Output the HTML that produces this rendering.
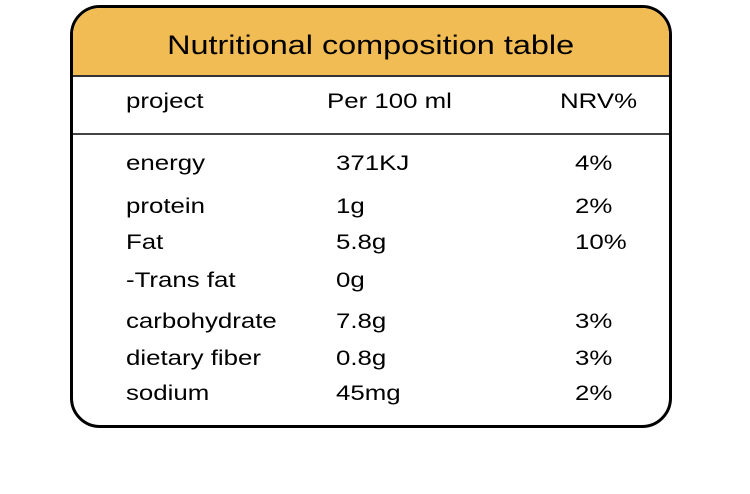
<!DOCTYPE html>
<html><head><style>
body{margin:0;width:750px;height:494px;background:#fff;font-family:"Liberation Sans",Arial,sans-serif;position:relative;overflow:hidden}
.box{position:absolute;left:70px;top:5px;width:596px;height:417px;border:3.5px solid #000;border-radius:30px;overflow:hidden;background:#fff}
.hd{position:absolute;left:0;top:0;width:100%;height:67px;background:#F2BC55;border-bottom:2px solid #333}
.ln{position:absolute;left:0;top:125px;width:100%;height:2px;background:#444}
.t{position:absolute;font-size:21px;transform:scaleX(1.23);transform-origin:0 0;color:#000;line-height:1;white-space:nowrap}
.title{position:absolute;left:0;width:100%;top:24px;text-align:center;font-size:27px;line-height:1}
.title span{display:inline-block;transform:scaleX(1.2)}
</style></head><body>
<div class="box"><div class="hd"><div class="title"><span>Nutritional composition table</span></div></div><div class="ln"></div></div>
<div class="t" style="left:126px;top:91px">project</div>
<div class="t" style="left:327px;top:91px">Per 100 ml</div>
<div class="t" style="left:560px;top:91px">NRV%</div>
<div class="t" style="left:126px;top:153px">energy</div><div class="t" style="left:336px;top:153px">371KJ</div><div class="t" style="left:575px;top:153px">4%</div>
<div class="t" style="left:126px;top:196px">protein</div><div class="t" style="left:336px;top:196px">1g</div><div class="t" style="left:575px;top:196px">2%</div>
<div class="t" style="left:126px;top:232px">Fat</div><div class="t" style="left:336px;top:232px">5.8g</div><div class="t" style="left:575px;top:232px">10%</div>
<div class="t" style="left:126px;top:270px">-Trans fat</div><div class="t" style="left:336px;top:270px">0g</div>
<div class="t" style="left:126px;top:311px">carbohydrate</div><div class="t" style="left:336px;top:311px">7.8g</div><div class="t" style="left:575px;top:311px">3%</div>
<div class="t" style="left:126px;top:348px">dietary fiber</div><div class="t" style="left:336px;top:348px">0.8g</div><div class="t" style="left:575px;top:348px">3%</div>
<div class="t" style="left:126px;top:383px">sodium</div><div class="t" style="left:336px;top:383px">45mg</div><div class="t" style="left:575px;top:383px">2%</div>
</body></html>
